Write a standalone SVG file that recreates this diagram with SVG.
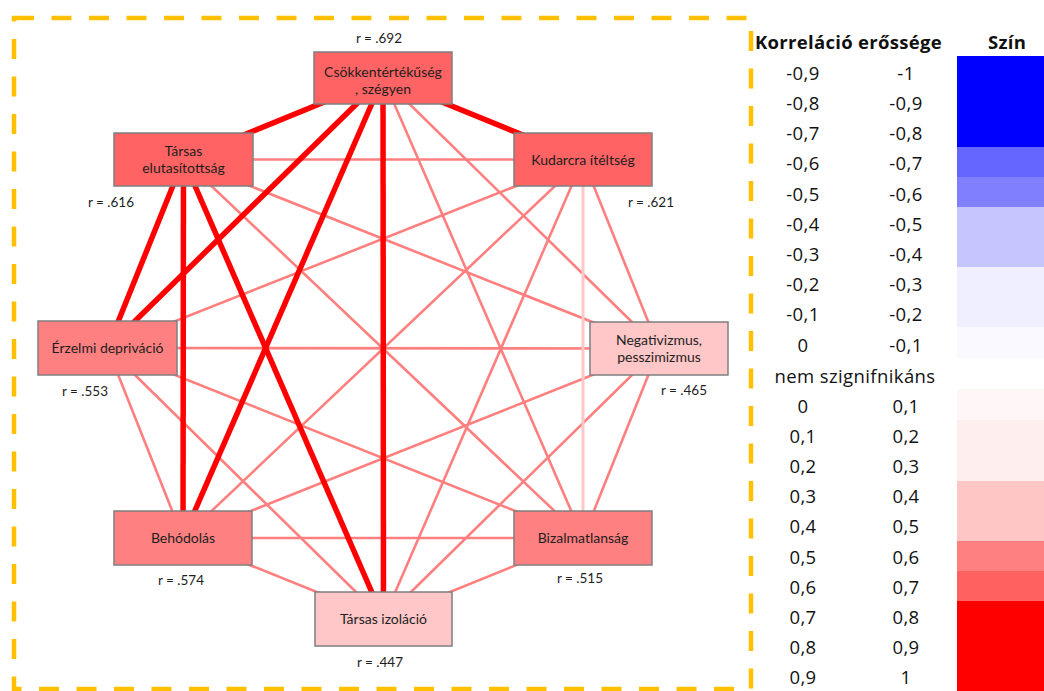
<svg xmlns="http://www.w3.org/2000/svg" width="1044" height="691" viewBox="0 0 1044 691">
  <style>
    .node rect { stroke: #7f7f7f; stroke-width: 1.5; }
    .lbl { font-family: Lato, "Open Sans", sans-serif; font-size: 14px; fill: #1e1e1e; text-anchor: middle; }
    .r { font-family: Lato, "Open Sans", sans-serif; font-size: 13.5px; fill: #1e1e1e; text-anchor: middle; }
    .thin { stroke: #ff7f7f; stroke-width: 2.6; }
    .thick { stroke: #ff0000; stroke-width: 5.5; }
    .faint { stroke: #ffc7c7; stroke-width: 3; }
    .lg { font-family: "Open Sans", Lato, sans-serif; font-size: 18.5px; letter-spacing: 0.4px; fill: #111; text-anchor: middle; }
    .lgh { font-family: "Open Sans", Lato, sans-serif; font-size: 18.5px; letter-spacing: 0.3px; font-weight: bold; fill: #111; }
  </style>

  <rect width="1044" height="691" fill="#ffffff"/>

  <!-- dashed frame around the network -->
  <rect x="14" y="18" width="737" height="671" fill="none" stroke="#ffc000" stroke-width="4.5" stroke-dasharray="20 17.5"/>

  <!-- connectors: centre to centre, boxes are drawn on top -->
  <g id="connectors" fill="none" stroke-linecap="butt">
    <!-- weak links -->
    <line class="thin" x1="383" y1="78" x2="659" y2="348.5"/>
    <line class="thin" x1="383" y1="78" x2="583" y2="538"/>
    <line class="thin" x1="183.5" y1="159.5" x2="583" y2="159.5"/>
    <line class="thin" x1="183.5" y1="159.5" x2="659" y2="348.5"/>
    <line class="thin" x1="183.5" y1="159.5" x2="583" y2="538"/>
    <line class="thin" x1="583" y1="159.5" x2="107.5" y2="348"/>
    <line class="thin" x1="583" y1="159.5" x2="659" y2="348.5"/>
    <line class="thin" x1="583" y1="159.5" x2="183" y2="538"/>
    <line class="thin" x1="583" y1="159.5" x2="383.5" y2="619"/>
    <line class="thin" x1="107.5" y1="348" x2="659" y2="348.5"/>
    <line class="thin" x1="107.5" y1="348" x2="183" y2="538"/>
    <line class="thin" x1="107.5" y1="348" x2="583" y2="538"/>
    <line class="thin" x1="107.5" y1="348" x2="383.5" y2="619"/>
    <line class="thin" x1="659" y1="348.5" x2="183" y2="538"/>
    <line class="thin" x1="659" y1="348.5" x2="583" y2="538"/>
    <line class="thin" x1="659" y1="348.5" x2="383.5" y2="619"/>
    <line class="thin" x1="183" y1="538" x2="583" y2="538"/>
    <line class="thin" x1="183" y1="538" x2="383.5" y2="619"/>
    <line class="thin" x1="583" y1="538" x2="383.5" y2="619"/>
    <line class="faint" x1="583" y1="159.5" x2="583" y2="538"/>
    <!-- strong links -->
    <line class="thick" x1="383" y1="78" x2="183.5" y2="159.5"/>
    <line class="thick" x1="383" y1="78" x2="583" y2="159.5"/>
    <line class="thick" x1="383" y1="78" x2="107.5" y2="348"/>
    <line class="thick" x1="383" y1="78" x2="183" y2="538"/>
    <line class="thick" x1="383" y1="78" x2="383.5" y2="619"/>
    <line class="thick" x1="183.5" y1="159.5" x2="107.5" y2="348"/>
    <line class="thick" x1="183.5" y1="159.5" x2="183" y2="538"/>
    <line class="thick" x1="183.5" y1="159.5" x2="383.5" y2="619"/>
  </g>

  <!-- nodes -->
  <g id="node-csokkentertekuseg" class="node">
    <rect x="314" y="52" width="138" height="52" fill="#ff6363"/>
    <text class="lbl" x="383" y="77">Csökkentértékűség</text>
    <text class="lbl" x="383" y="94">, szégyen</text>
    <text class="r" x="379" y="43">r = .692</text>
  </g>
  <g id="node-tarsas-elutasitottsag" class="node">
    <rect x="114" y="133" width="139" height="53" fill="#ff6363"/>
    <text class="lbl" x="183.5" y="156">Társas</text>
    <text class="lbl" x="183.5" y="173">elutasítottság</text>
    <text class="r" x="111" y="207">r = .616</text>
  </g>
  <g id="node-kudarcra-iteltseg" class="node">
    <rect x="514" y="133" width="138" height="53" fill="#ff6363"/>
    <text class="lbl" x="583" y="165">Kudarcra ítéltség</text>
    <text class="r" x="651" y="207">r = .621</text>
  </g>
  <g id="node-erzelmi-deprivacio" class="node">
    <rect x="38" y="321" width="139" height="54" fill="#ff8080"/>
    <text class="lbl" x="107.5" y="353">Érzelmi depriváció</text>
    <text class="r" x="85" y="396">r = .553</text>
  </g>
  <g id="node-negativizmus" class="node">
    <rect x="590" y="322" width="138" height="53" fill="#ffc7c7"/>
    <text class="lbl" x="659" y="345">Negativizmus,</text>
    <text class="lbl" x="659" y="362">pesszimizmus</text>
    <text class="r" x="684" y="395">r = .465</text>
  </g>
  <g id="node-behodolas" class="node">
    <rect x="114" y="511" width="138" height="54" fill="#ff8080"/>
    <text class="lbl" x="183" y="543">Behódolás</text>
    <text class="r" x="181" y="585">r = .574</text>
  </g>
  <g id="node-bizalmatlansag" class="node">
    <rect x="514" y="511" width="138" height="54" fill="#ff8080"/>
    <text class="lbl" x="583" y="543">Bizalmatlanság</text>
    <text class="r" x="580" y="583">r = .515</text>
  </g>
  <g id="node-tarsas-izolacio" class="node">
    <rect x="315" y="592" width="137" height="54" fill="#ffc7c7"/>
    <text class="lbl" x="383.5" y="624">Társas izoláció</text>
    <text class="r" x="380" y="667">r = .447</text>
  </g>

  <!-- colour key -->
  <g id="legend">
    <text class="lgh" x="755" y="49">Korreláció erőssége</text>
    <text class="lgh" x="1007" y="49" text-anchor="middle">Szín</text>

    <rect x="957" y="56" width="87" height="91" fill="#0000ff"/>
    <rect x="957" y="147" width="87" height="30" fill="#6565ff"/>
    <rect x="957" y="177" width="87" height="30" fill="#8080ff"/>
    <rect x="957" y="207" width="87" height="60" fill="#c6c6ff"/>
    <rect x="957" y="267" width="87" height="60" fill="#efefff"/>
    <rect x="957" y="327" width="87" height="32" fill="#f9f9ff"/>
    <rect x="957" y="389" width="87" height="31" fill="#fff7f7"/>
    <rect x="957" y="420" width="87" height="61" fill="#ffeeee"/>
    <rect x="957" y="481" width="87" height="60" fill="#ffc6c6"/>
    <rect x="957" y="541" width="87" height="30" fill="#ff8080"/>
    <rect x="957" y="571" width="87" height="30" fill="#ff6161"/>
    <rect x="957" y="601" width="87" height="90" fill="#ff0000"/>

    <text class="lg" x="803" y="80">-0,9</text><text class="lg" x="906" y="80">-1</text>
    <text class="lg" x="803" y="110">-0,8</text><text class="lg" x="906" y="110">-0,9</text>
    <text class="lg" x="803" y="140">-0,7</text><text class="lg" x="906" y="140">-0,8</text>
    <text class="lg" x="803" y="170">-0,6</text><text class="lg" x="906" y="170">-0,7</text>
    <text class="lg" x="803" y="201">-0,5</text><text class="lg" x="906" y="201">-0,6</text>
    <text class="lg" x="803" y="231">-0,4</text><text class="lg" x="906" y="231">-0,5</text>
    <text class="lg" x="803" y="261">-0,3</text><text class="lg" x="906" y="261">-0,4</text>
    <text class="lg" x="803" y="291">-0,2</text><text class="lg" x="906" y="291">-0,3</text>
    <text class="lg" x="803" y="321">-0,1</text><text class="lg" x="906" y="321">-0,2</text>
    <text class="lg" x="803" y="352">0</text><text class="lg" x="906" y="352">-0,1</text>
    <text class="lg" x="855" y="383">nem szignifnikáns</text>
    <text class="lg" x="803" y="413">0</text><text class="lg" x="906" y="413">0,1</text>
    <text class="lg" x="803" y="443">0,1</text><text class="lg" x="906" y="443">0,2</text>
    <text class="lg" x="803" y="473">0,2</text><text class="lg" x="906" y="473">0,3</text>
    <text class="lg" x="803" y="503">0,3</text><text class="lg" x="906" y="503">0,4</text>
    <text class="lg" x="803" y="533">0,4</text><text class="lg" x="906" y="533">0,5</text>
    <text class="lg" x="803" y="564">0,5</text><text class="lg" x="906" y="564">0,6</text>
    <text class="lg" x="803" y="594">0,6</text><text class="lg" x="906" y="594">0,7</text>
    <text class="lg" x="803" y="624">0,7</text><text class="lg" x="906" y="624">0,8</text>
    <text class="lg" x="803" y="654">0,8</text><text class="lg" x="906" y="654">0,9</text>
    <text class="lg" x="803" y="684">0,9</text><text class="lg" x="906" y="684">1</text>
  </g>
</svg>
